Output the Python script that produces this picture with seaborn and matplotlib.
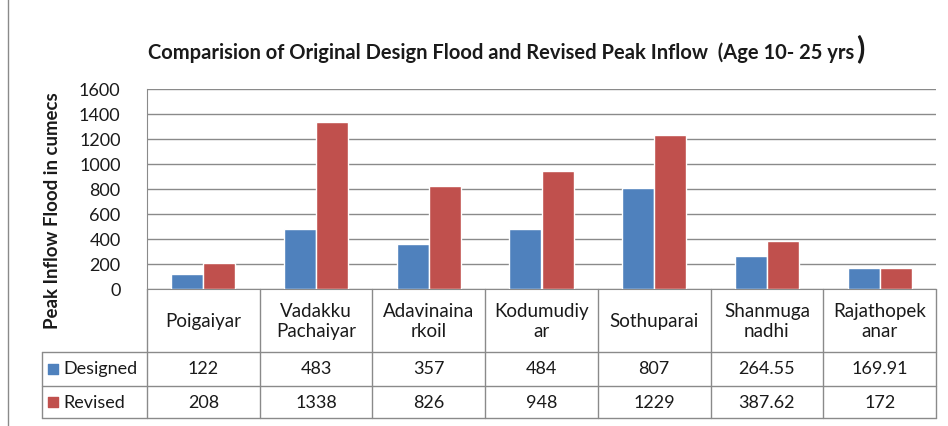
import matplotlib
matplotlib.use("Agg")
import matplotlib.pyplot as plt
from matplotlib.lines import Line2D
import pandas as pd
import seaborn as sns

# ── data ───────────────────────────────────────────────────────────────────
sites = ["Poigaiyar", "Vadakku\nPachaiyar", "Adavinaina\nrkoil", "Kodumudiy\nar",
         "Sothuparai", "Shanmuga\nnadhi", "Rajathopek\nanar"]
designed = [122, 483, 357, 484, 807, 264.55, 169.91]
revised = [208, 1338, 826, 948, 1229, 387.62, 172]
series = ["Designed", "Revised"]
colors = ["#4F81BD", "#C0504D"]
yticks = [0, 200, 400, 600, 800, 1000, 1200, 1400, 1600]

title = "Comparision of Original Design Flood and Revised Peak Inflow  (Age 10- 25 yrs"
ylabel = "Peak Inflow Flood in cumecs"

df = pd.DataFrame({
    "site": sites * 2,
    "flow": designed + revised,
    "series": [series[0]] * len(sites) + [series[1]] * len(sites),
})

# ── figure / layout (pixel based, 948x427) ─────────────────────────────────
sns.set_style("white")
plt.rcParams["font.family"] = ["Lato", "DejaVu Sans"]
TXT = "#1a1a1a"
LINE = "#8a8a8a"
FS = 13

W, H = 948, 427
fig = plt.figure(figsize=(W / 100, H / 100), dpi=100)

def px(x0, y0, x1, y1):
    return [x0 / W, 1 - y1 / H, (x1 - x0) / W, (y1 - y0) / H]

ax = fig.add_axes(px(147, 90, 936, 290))
sns.barplot(data=df, x="site", y="flow", hue="series", palette=colors,
            saturation=1, width=0.57, legend=False, ax=ax, zorder=3)
ax.set_xlim(-0.5, len(sites) - 0.5)
ax.set_ylim(0, 1600)
ax.set_yticks(yticks)
ax.set_xticks([])
ax.set_xlabel(""); ax.set_ylabel("")
ax.yaxis.grid(True, color=LINE, lw=1)
ax.set_axisbelow(True)
ax.tick_params(axis="y", length=0, pad=19, labelsize=FS, labelcolor=TXT)
for s in ["top", "right"]:
    ax.spines[s].set_visible(False)
for s in ["left", "bottom"]:
    ax.spines[s].set_color(LINE)

# ── data table under the chart ─────────────────────────────────────────────
cat_w = (936 - 147) / len(sites)
leg_w = (147 - 42) / cat_w
tax = fig.add_axes(px(42, 290, 936, 419))
x_left = -0.5 - leg_w
x_right = len(sites) - 0.5
tax.set_xlim(x_left, x_right)
tax.set_ylim(129, 0)
tax.axis("off")

rows = [0, 62.5, 96.5, 129]
for y in rows[1:]:
    tax.plot([x_left, x_right], [y, y], color=LINE, lw=1, clip_on=False)
tax.plot([x_left, x_left], [rows[1], rows[3]], color=LINE, lw=1, clip_on=False)
for k in range(len(sites) + 1):
    tax.plot([k - 0.5, k - 0.5], [0, rows[3]], color=LINE, lw=1, clip_on=False)

for i, name in enumerate(sites):
    tax.text(i, (rows[0] + rows[1]) / 2, name, ha="center", va="center",
             fontsize=13.5, color=TXT, linespacing=1.2)
    for r, vals in enumerate([designed, revised]):
        tax.text(i, (rows[r + 1] + rows[r + 2]) / 2, f"{vals[i]:g}",
                 ha="center", va="center", fontsize=FS, color=TXT)

for r, (name, c) in enumerate(zip(series, colors)):
    yc = (rows[r + 1] + rows[r + 2]) / 2
    tax.scatter([x_left + 0.1], [yc], marker="s", s=45, color=c, clip_on=False)
    tax.text(x_left + 0.19, yc, name, ha="left", va="center",
             fontsize=FS, color=TXT)

# ── titles ─────────────────────────────────────────────────────────────────
t = fig.text(148 / W, 1 - 53 / H, title, fontsize=14.5, fontweight="bold",
             color=TXT, ha="left", va="center")
fig.canvas.draw()
bb = t.get_window_extent()
fig.text((bb.x1 + 2) / W, 1 - 49 / H, ")", fontsize=22, fontweight="bold",
         color=TXT, ha="left", va="center")

fig.text(53 / W, 1 - 211 / H, ylabel, rotation=90, fontsize=13.4,
         fontweight="bold", color=TXT, ha="center", va="center")

# thin frame edge on the left
fig.add_artist(Line2D([8 / W, 8 / W], [0, 1], color=LINE, lw=1))

fig.savefig("out.png", dpi=100)
